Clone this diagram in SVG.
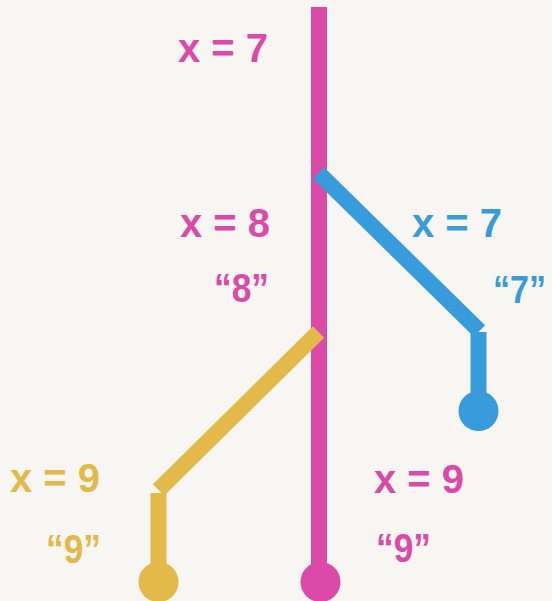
<svg xmlns="http://www.w3.org/2000/svg" width="552" height="601" viewBox="0 0 552 601">
<style>
.t{font-family:"Liberation Sans",Arial,sans-serif;font-weight:bold;font-size:40px}
.pk{fill:#dc4aa8}.bl{fill:#389cdc}.yl{fill:#e3b94a}
.ln{fill:none;stroke-width:16;stroke-linecap:butt}
</style>
<rect width="552" height="601" fill="#f8f6f2"/>
<g id="connectors">
<line class="ln" x1="319" y1="7" x2="319" y2="582" stroke="#dc4aa8"/>
<line class="ln" x1="318.5" y1="173" x2="479.5" y2="331" stroke="#389cdc"/>
<line class="ln" x1="478.5" y1="332" x2="478.5" y2="411" stroke="#389cdc"/>
<line class="ln" x1="318.5" y1="332" x2="158.5" y2="490" stroke="#e3b94a"/>
<line class="ln" x1="158.5" y1="493" x2="158.5" y2="582" stroke="#e3b94a"/>
</g>
<g id="end-pink"><circle cx="320.5" cy="582" r="20" fill="#dc4aa8"/></g>
<g id="end-blue"><circle cx="478.5" cy="411" r="20" fill="#389cdc"/></g>
<g id="end-yellow"><circle cx="158.5" cy="582" r="20" fill="#e3b94a"/></g>
<g id="labels-pink">
<text class="t pk" x="268" y="62" text-anchor="end">x = 7</text>
<text class="t pk" x="270" y="237" text-anchor="end">x = 8</text>
<text class="t pk" x="214" y="302" textLength="55" lengthAdjust="spacingAndGlyphs">“8”</text>
<text class="t pk" x="374" y="493">x = 9</text>
<text class="t pk" x="376" y="562" textLength="55" lengthAdjust="spacingAndGlyphs">“9”</text>
</g>
<g id="labels-blue">
<text class="t bl" x="412" y="237">x = 7</text>
<text class="t bl" x="493" y="303" font-size="38" style="font-size:38px" textLength="53" lengthAdjust="spacingAndGlyphs">“7”</text>
</g>
<g id="labels-yellow">
<text class="t yl" x="100" y="492" text-anchor="end">x = 9</text>
<text class="t yl" x="46" y="563" textLength="55" lengthAdjust="spacingAndGlyphs">“9”</text>
</g>
</svg>
